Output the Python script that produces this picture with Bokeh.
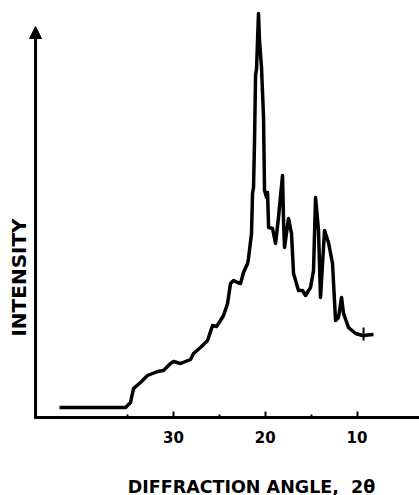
import math
from bokeh.plotting import figure
from bokeh.models import Range1d, FixedTicker, Arrow, NormalHead, Label, ColumnDataSource
from bokeh.embed import file_html
from bokeh.resources import INLINE

# Diffraction angle (2-theta, degrees) and intensity (arbitrary units)
angle = [42.43, 35.23, 34.69, 34.36, 33.60, 32.83, 31.74, 31.09, 30.33, 30.00,
         29.24, 28.15, 27.82, 27.06, 26.29, 25.75, 25.31, 24.88, 24.55, 24.11,
         23.79, 23.46, 23.02, 22.70, 22.37, 21.93, 21.83, 21.50, 21.39, 21.28,
         21.17, 21.06, 20.95, 20.74, 20.63, 20.41, 20.19, 20.08, 19.86, 19.75,
         19.64, 19.21, 18.88, 18.56, 18.12, 18.01, 17.90, 17.47, 17.14, 16.92,
         16.38, 15.94, 15.61, 15.07, 14.74, 14.52, 14.20, 13.98, 13.54, 13.11,
         12.67, 12.34, 12.02, 11.69, 11.47, 10.93, 10.16, 9.40, 8.20]
intensity = [10, 10, 15, 29, 35, 42, 46, 47, 54, 56,
             54, 58, 64, 70, 77, 92, 91, 97, 102, 114,
             134, 137, 135, 134, 145, 154, 159, 184, 224, 230,
             277, 342, 349, 404, 377, 350, 300, 227, 220, 225,
             190, 189, 174, 200, 242, 197, 170, 199, 184, 144,
             127, 127, 122, 130, 147, 220, 187, 120, 187, 175,
             154, 97, 100, 120, 104, 90, 84, 82, 83]

# end-of-scan marker
marker_angle = [9.29]
marker_low = [77]
marker_high = [90]

major_ticks = [30, 20, 10]
minor_ticks = [35, 25, 15]
tick_labels = {30: "30", 20: "20", 10: "10"}

x_title = "DIFFRACTION ANGLE,\u00a0\u00a02θ"
y_title = "INTENSITY"

# axis extents (data units)
axis_angle_start, axis_angle_end = 45.04, 3.19
axis_intensity_top = 391

p = figure(width=419, height=495, output_backend="svg", toolbar_location=None,
           x_range=Range1d(48.86, 3.19), y_range=Range1d(-78, 417),
           y_axis_location=None, min_border=0)
p.outline_line_color = None
p.xgrid.visible = False
p.ygrid.visible = False
p.background_fill_color = "white"
p.border_fill_color = "white"

ax = p.xaxis[0]
ax.fixed_location = 0
ax.ticker = FixedTicker(ticks=major_ticks, minor_ticks=minor_ticks)
ax.major_label_overrides = tick_labels
ax.axis_line_color = None
ax.major_tick_in = 6
ax.major_tick_out = 0
ax.major_tick_line_width = 2
ax.minor_tick_in = 3
ax.minor_tick_out = 0
ax.minor_tick_line_width = 2
ax.major_label_standoff = 13
ax.major_label_text_font = "DejaVu Sans"
ax.major_label_text_font_style = "bold"
ax.major_label_text_font_size = "15px"
ax.major_label_text_color = "black"

# x axis line
p.segment(x0=[axis_angle_start], y0=[0], x1=[axis_angle_end], y1=[0],
          line_width=3, line_color="black")

src = ColumnDataSource(dict(x=angle, y=intensity))
p.line("x", "y", source=src, line_width=3.5, line_color="black", line_join="round")
p.segment(x0=marker_angle, y0=marker_low, x1=marker_angle, y1=marker_high,
          line_width=2, line_color="black")

arrow = Arrow(end=NormalHead(size=12, fill_color="black", line_color="black"),
              x_start=axis_angle_start, y_start=-1.5, x_end=axis_angle_start,
              y_end=axis_intensity_top, line_width=3, line_color="black")
p.add_layout(arrow)

p.add_layout(Label(x=21.5, y=-69, text=x_title,
                   text_font="DejaVu Sans", text_font_style="bold",
                   text_font_size="17.5px", text_align="center", text_baseline="middle",
                   text_color="black"))
p.add_layout(Label(x=46.89, y=140, text=y_title, angle=math.pi / 2,
                   text_font="DejaVu Sans", text_font_style="bold",
                   text_font_size="20px", text_align="center", text_baseline="middle",
                   text_color="black"))

open("out.html", "w").write(file_html(p, INLINE))
